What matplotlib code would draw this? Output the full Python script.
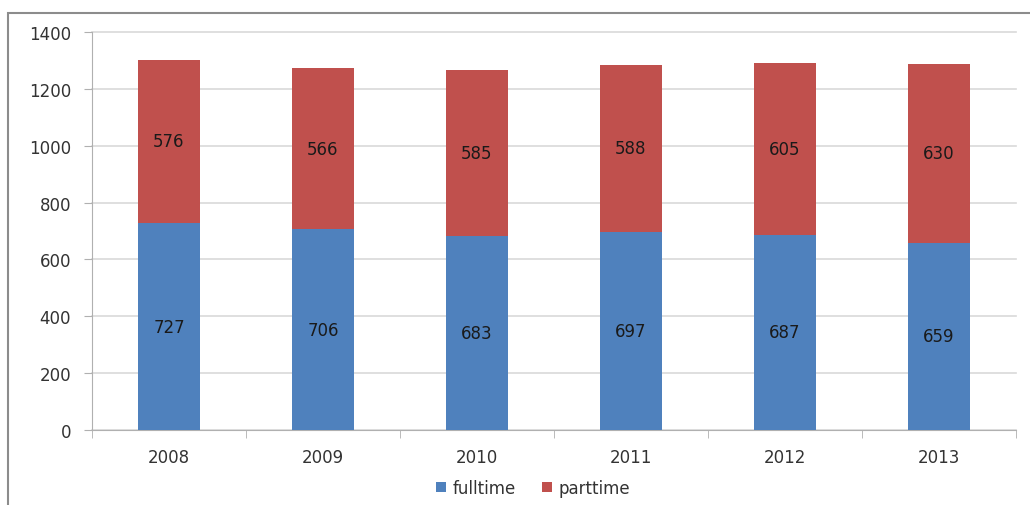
import matplotlib
matplotlib.use("Agg")
import matplotlib.pyplot as plt
import numpy as np

years = ["2008", "2009", "2010", "2011", "2012", "2013"]
fulltime = [727, 706, 683, 697, 687, 659]
parttime = [576, 566, 585, 588, 605, 630]

plt.rcParams['font.family'] = ['DejaVu Sans']

fig = plt.figure(figsize=(10.3, 5.06), dpi=100)
# outer chart border (left and top visible, rest cut off)
fig.patches.append(plt.Rectangle((8 / 1030, -0.1), 2, 1.1 - 14 / 506,
                                 transform=fig.transFigure, fill=False,
                                 edgecolor='#8c8c8c', linewidth=1.5))
ax = fig.add_axes([92 / 1030, 75 / 506, (1016 - 92) / 1030, (431 - 33) / 506])

x = np.arange(len(years))
width = 0.4
b1 = ax.bar(x, fulltime, width, color='#4f81bd', label='fulltime', zorder=3)
b2 = ax.bar(x, parttime, width, bottom=fulltime, color='#c0504d', label='parttime', zorder=3)

for i in range(len(years)):
    ax.text(x[i], fulltime[i] / 2, str(fulltime[i]), ha='center', va='center',
            fontsize=12, color='#1a1a1a', zorder=4)
    ax.text(x[i], fulltime[i] + parttime[i] / 2, str(parttime[i]), ha='center',
            va='center', fontsize=12, color='#1a1a1a', zorder=4)

ax.set_xlim(-0.5, len(years) - 0.5)
ax.set_ylim(0, 1400)
ax.set_yticks(range(0, 1401, 200))
ax.yaxis.grid(True, color='#d9d9d9', linewidth=1.2, zorder=0)
for gl in ax.get_ygridlines():
    gl.set_clip_on(False)
ax.set_xticks(x)
ax.set_xticklabels(years)
ax.set_xticks(np.arange(-0.5, len(years)), minor=True)
ax.tick_params(axis='x', which='major', length=0, pad=13, labelsize=12, labelcolor='#333333')
ax.tick_params(axis='x', which='minor', length=6, color='#b0b0b0')
ax.tick_params(axis='y', length=6, color='#b0b0b0', pad=9, labelsize=12, labelcolor='#333333')

for s in ['top', 'right']:
    ax.spines[s].set_visible(False)
ax.spines['left'].set_color('#b0b0b0')
ax.spines['bottom'].set_color('#b0b0b0')

fig.legend(handles=[b1, b2], labels=['fulltime', 'parttime'], loc='center',
           bbox_to_anchor=(533 / 1030, 1 - 489 / 506), ncol=2, frameon=False,
           fontsize=12, handlelength=0.6, handleheight=0.6, columnspacing=1.6,
           handletextpad=0.4, labelcolor='#333333')

fig.savefig("out.png", dpi=100)
